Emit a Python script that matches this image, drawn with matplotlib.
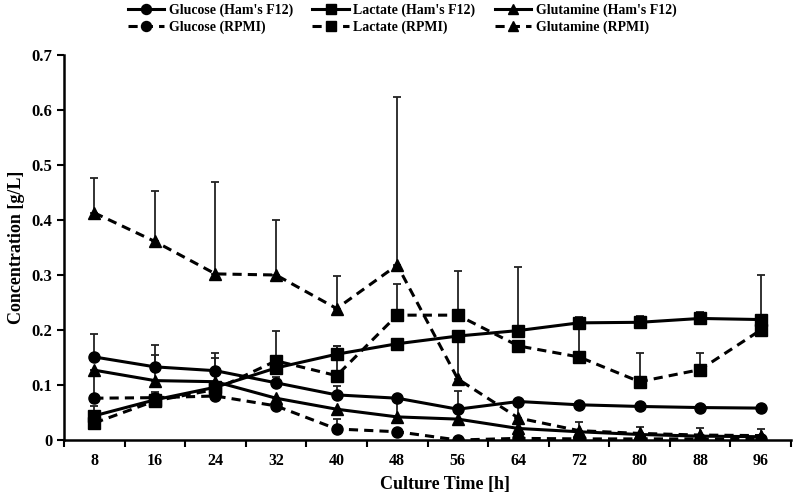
import numpy as np
import matplotlib
matplotlib.use('Agg')
import matplotlib.pyplot as plt

plt.rcParams['font.family'] = ['Liberation Serif', 'DejaVu Serif']
plt.rcParams['font.weight'] = 'bold'

time = [8, 16, 24, 32, 40, 48, 56, 64, 72, 80, 88, 96]

glc_f12 = [0.151, 0.133, 0.126, 0.104, 0.082, 0.076, 0.056, 0.070, 0.064, 0.061, 0.059, 0.058]
glc_f12_err = [0.042, 0.040, 0.032, 0.010, 0.016, 0.0, 0.033, 0.0, 0.0, 0.0, 0.0, 0.0]
lac_f12 = [0.044, 0.073, 0.096, 0.131, 0.156, 0.175, 0.189, 0.199, 0.213, 0.214, 0.221, 0.219]
lac_f12_err = [0.017, 0.010, 0.010, 0.010, 0.015, 0.0, 0.010, 0.116, 0.011, 0.011, 0.012, 0.005]
gln_f12 = [0.127, 0.108, 0.106, 0.076, 0.056, 0.042, 0.038, 0.021, 0.015, 0.010, 0.007, 0.006]
gln_f12_err = [0.0, 0.047, 0.043, 0.0, 0.0, 0.030, 0.0, 0.0, 0.0, 0.0, 0.0, 0.0]

glc_rpmi = [0.076, 0.077, 0.080, 0.062, 0.020, 0.015, 0.0, 0.003, 0.002, 0.002, 0.002, 0.001]
glc_rpmi_err = [0.040, 0.010, 0.0, 0.0, 0.018, 0.0, 0.0, 0.0, 0.0, 0.0, 0.0, 0.0]
lac_rpmi = [0.031, 0.071, 0.092, 0.144, 0.117, 0.227, 0.227, 0.171, 0.151, 0.106, 0.128, 0.200]
lac_rpmi_err = [0.0, 0.0, 0.0, 0.055, 0.054, 0.057, 0.080, 0.0, 0.062, 0.053, 0.031, 0.100]
gln_rpmi = [0.413, 0.361, 0.302, 0.300, 0.239, 0.318, 0.111, 0.040, 0.017, 0.012, 0.009, 0.008]
gln_rpmi_err = [0.064, 0.091, 0.167, 0.100, 0.060, 0.306, 0.080, 0.030, 0.015, 0.012, 0.012, 0.012]

series = [
    ('Glucose (Ham\'s F12)', glc_f12, glc_f12_err, 'o', '-'),
    ('Glucose (RPMI)', glc_rpmi, glc_rpmi_err, 'o', '--'),
    ('Lactate (Ham\'s F12)', lac_f12, lac_f12_err, 's', '-'),
    ('Lactate (RPMI)', lac_rpmi, lac_rpmi_err, 's', '--'),
    ('Glutamine (Ham\'s F12)', gln_f12, gln_f12_err, '^', '-'),
    ('Glutamine (RPMI)', gln_rpmi, gln_rpmi_err, '^', '--'),
]

fig = plt.figure(figsize=(7.95, 4.96), dpi=100)
ax = fig.add_axes([0.0805, 0.1129, 0.9145, 0.7762])

x = np.arange(len(time))
handles = []
# error bars (plus side only) drawn first, lines on top
for name, y, err, mk, ls in series:
    err = np.array(err)
    ax.errorbar(x, y, yerr=[np.zeros_like(err), err], fmt='none',
                ecolor='#222222', elinewidth=1.3, capsize=3, capthick=1.3, zorder=2)
for name, y, err, mk, ls in series:
    ms = 8.5 if mk == '^' else 8
    h, = ax.plot(x, y, ls=ls, marker=mk, color='black', lw=2.2, ms=ms,
                 dashes=(3, 2) if ls == '--' else (None, None), zorder=3, label=name)
    handles.append(h)

ax.set_xlim(-0.5, len(time) - 0.5)
ax.set_ylim(0, 0.7)
ax.set_xticks(x)
ax.set_xticklabels([str(t) for t in time])
ax.set_xticks(np.arange(-0.5, len(time), 1), minor=True)
ax.tick_params(axis='x', which='major', length=0, pad=9, labelsize=11.5)
ax.tick_params(axis='x', which='minor', length=5, width=1.5, direction='out')
yt = np.arange(0, 0.71, 0.1)
ax.set_yticks(yt)
ax.set_yticklabels(['0'] + ['%.1f' % v for v in yt[1:]])
ax.tick_params(axis='y', length=5, width=1.5, direction='out', labelsize=12)

for s in ['top', 'right']:
    ax.spines[s].set_visible(False)
for s in ['left', 'bottom']:
    ax.spines[s].set_linewidth(1.8)

ax.set_xlabel('Culture Time [h]', fontsize=13, fontweight='bold')
ax.xaxis.set_label_coords(0.524, -0.094)
ax.set_ylabel('Concentration [g/L]', fontsize=13, fontweight='bold')
ax.yaxis.set_label_coords(-0.054, 0.5)

fig.legend(handles=handles, loc='center', bbox_to_anchor=(0.506, 0.962), ncol=3,
           frameon=False, fontsize=10, handlelength=2.6, handletextpad=0.35,
           columnspacing=1.4, labelspacing=0.3, markerscale=0.9)

fig.savefig('out.png', dpi=100)
